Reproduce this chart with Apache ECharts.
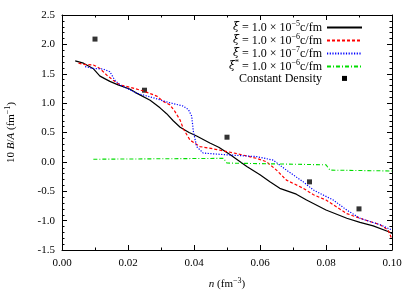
<!DOCTYPE html>
<html><head><meta charset="utf-8">
<script src="https://cdn.jsdelivr.net/npm/echarts@6/dist/echarts.min.js"></script>
<style>html,body{margin:0;padding:0;background:#fff}#c{width:415px;height:291px}</style>
</head><body><div id="c"></div>
<script>
const seriesNames = ['xi5', 'xi6', 'xi7', 'xis6', 'Constant Density'];
const blackX = [0.004,0.0065,0.0094,0.0115,0.0145,0.017,0.0205,0.0226,0.0267,0.0297,0.0317,0.0337,0.0358,0.0385,0.0408,0.0448,0.0475,0.051,0.056,0.060,0.063,0.066,0.071,0.0741,0.080,0.0863,0.0903,0.0943,0.099,0.1];
const blackY = [1.72,1.68,1.59,1.46,1.37,1.31,1.24,1.17,1.05,0.92,0.82,0.70,0.59,0.50,0.44,0.32,0.25,0.12,-0.08,-0.22,-0.34,-0.45,-0.55,-0.65,-0.82,-0.96,-1.03,-1.09,-1.19,-1.22];
const redX = [0.005,0.0064,0.0095,0.0115,0.0135,0.0155,0.0176,0.0206,0.0245,0.0287,0.0307,0.0327,0.0342,0.0358,0.0368,0.0388,0.0418,0.047,0.053,0.059,0.062,0.065,0.068,0.0731,0.0762,0.080,0.0863,0.0903,0.0964,0.0988,0.1];
const redY = [1.68,1.66,1.65,1.59,1.48,1.39,1.31,1.27,1.21,1.12,1.03,0.97,0.86,0.71,0.56,0.37,0.26,0.21,0.14,0.06,0.0,-0.14,-0.31,-0.45,-0.56,-0.65,-0.88,-0.96,-1.07,-1.16,-1.32];
const blueX = [0.007,0.0095,0.0125,0.0145,0.016,0.0176,0.0226,0.0277,0.0317,0.0367,0.0383,0.0393,0.0398,0.0408,0.0428,0.050,0.059,0.064,0.068,0.0731,0.0762,0.0822,0.0863,0.0903,0.0964,0.1];
const blueY = [1.62,1.59,1.58,1.535,1.39,1.31,1.17,1.09,1.02,0.95,0.89,0.78,0.52,0.26,0.15,0.12,0.09,0.03,-0.14,-0.34,-0.48,-0.65,-0.82,-0.96,-1.07,-1.16];
const greenX = [0.0095,0.0489,0.050,0.080,0.0812,0.1];
const greenY = [0.045,0.06,-0.02,-0.05,-0.14,-0.155];
const constX = [0.01,0.025,0.05,0.075,0.09];
const constY = [2.09,1.22,0.42,-0.34,-0.80];
const xTicks = ['0.00','0.02','0.04','0.06','0.08','0.10'];
const yTicks = ['-1.5','-1.0','-0.5','0.0','0.5','1.0','1.5','2.0','2.5'];

const legendText = {
  'xi5': '{i|ξ̇} = 1.0 × 10{s|−5}c/fm',
  'xi6': '{i|ξ̇} = 1.0 × 10{s|−6}c/fm',
  'xi7': '{i|ξ̇} = 1.0 × 10{s|−7}c/fm',
  'xis6': '{i|ξ̇}{s|*} = 1.0 × 10{s|−6}c/fm',
  'Constant Density': 'Constant Density'
};
const zip = (a, b) => a.map((v, i) => [v, b[i]]);
const FONT = 'Liberation Serif';
const chart = echarts.init(document.getElementById('c'), null, {renderer: 'canvas'});
const axisCommon = {
  axisLine: {show: true, onZero: false, lineStyle: {color: '#000', width: 1}},
  splitLine: {show: false},
  axisTick: {show: true, inside: true, length: 5, lineStyle: {color: '#000'}},
  minorTick: {show: true, length: 2.5, lineStyle: {color: '#000'}}
};
const richStyles = (fs) => ({
  i: {fontStyle: 'italic', fontFamily: 'DejaVu Serif', fontSize: fs - 1, lineHeight: 12},
  s: {fontSize: 8, fontFamily: FONT, verticalAlign: 'bottom', padding: [0, 0, 6, 0], lineHeight: 12}
});
chart.setOption({
  animation: false,
  backgroundColor: '#fff',
  textStyle: {fontFamily: FONT},
  grid: {left: 62, right: 23, top: 15, bottom: 41, containLabel: false, outerBoundsMode: 'none'},
  xAxis: [
    Object.assign({type: 'value', min: 0, max: 0.1, interval: 0.02, position: 'bottom',
      axisLabel: {color: '#000', fontFamily: FONT, fontSize: 11, margin: 8,
        formatter: v => xTicks[Math.round(v / 0.02)]},
      name: '{i|n} (fm{s|−3})', nameLocation: 'middle', nameGap: 27,
      nameTextStyle: {color: '#000', fontFamily: FONT, fontSize: 11,
        rich: {i: {fontStyle: 'italic', fontFamily: FONT, fontSize: 11}, s: {fontSize: 8, fontFamily: FONT, verticalAlign: 'bottom', padding: [0, 0, 6, 0]}}}
    }, axisCommon, {minorTick: Object.assign({}, axisCommon.minorTick, {splitNumber: 2})}),
    Object.assign({type: 'value', min: 0, max: 0.1, interval: 0.02, position: 'top',
      axisLabel: {show: false}}, axisCommon, {minorTick: Object.assign({}, axisCommon.minorTick, {splitNumber: 2})})
  ],
  yAxis: [
    Object.assign({type: 'value', min: -1.5, max: 2.5, interval: 0.5, position: 'left',
      axisLabel: {color: '#000', fontFamily: FONT, fontSize: 11, margin: 7,
        formatter: v => yTicks[Math.round((v + 1.5) / 0.5)]},
      name: '10 {i|B}/{i|A} (fm{s|−1})', nameLocation: 'middle', nameGap: 44, nameRotate: 90,
      nameTextStyle: {color: '#000', fontFamily: FONT, fontSize: 11,
        rich: {i: {fontStyle: 'italic', fontFamily: FONT, fontSize: 11}, s: {fontSize: 8, fontFamily: FONT, verticalAlign: 'bottom', padding: [0, 0, 6, 0]}}}
    }, axisCommon, {minorTick: Object.assign({}, axisCommon.minorTick, {splitNumber: 5})}),
    Object.assign({type: 'value', min: -1.5, max: 2.5, interval: 0.5, position: 'right',
      axisLabel: {show: false}}, axisCommon, {minorTick: Object.assign({}, axisCommon.minorTick, {splitNumber: 5})})
  ],
  legend: {
    data: [
      {name: seriesNames[0]}, {name: seriesNames[1]}, {name: seriesNames[2]}, {name: seriesNames[3]},
      {name: seriesNames[4], icon: 'path://M0,0M35,5M15,0h5v5h-5z', itemStyle: {opacity: 1}}
    ],
    right: 47, top: 15, orient: 'vertical', align: 'right',
    itemWidth: 35, itemHeight: 5, itemGap: -1,
    itemStyle: {opacity: 0},
    formatter: n => legendText[n],
    textStyle: {color: '#000', fontFamily: FONT, fontSize: 12, lineHeight: 12.8,
      rich: richStyles(12)}
  },
  series: [
    {name: seriesNames[0], type: 'line', data: zip(blackX, blackY), showSymbol: false, symbol: 'none',
      lineStyle: {color: '#000', width: 1.2}, itemStyle: {color: '#000'}},
    {name: seriesNames[1], type: 'line', data: zip(redX, redY), showSymbol: false, symbol: 'none',
      lineStyle: {color: '#ff0000', width: 1.2, type: [3, 2]}, itemStyle: {color: '#ff0000'}},
    {name: seriesNames[2], type: 'line', data: zip(blueX, blueY), showSymbol: false, symbol: 'none',
      lineStyle: {color: '#0000ff', width: 1.2, type: [1.2, 1.5]}, itemStyle: {color: '#0000ff'}},
    {name: seriesNames[3], type: 'line', data: zip(greenX, greenY), showSymbol: false, symbol: 'none',
      lineStyle: {color: '#00dd00', width: 1.1, type: [4, 2, 1, 2]}, itemStyle: {color: '#00dd00'}},
    {name: seriesNames[4], type: 'scatter', data: zip(constX, constY), symbol: 'rect', symbolSize: 5,
      itemStyle: {color: '#000'}}
  ]
});
</script></body></html>
